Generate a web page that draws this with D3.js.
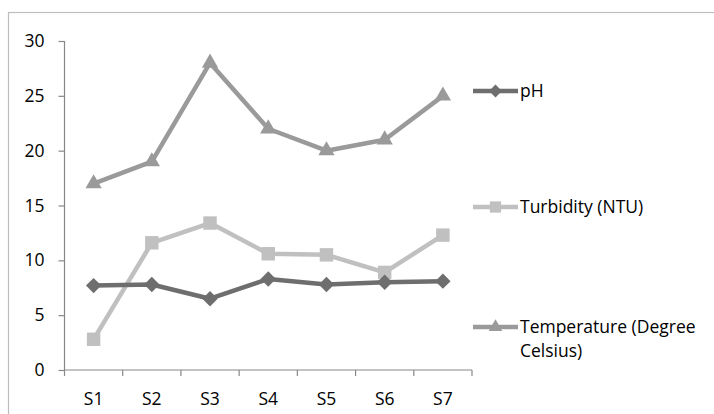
<!DOCTYPE html>
<html>
<head>
<meta charset="utf-8">
<script src="https://cdn.jsdelivr.net/npm/d3@7"></script>
<style>
  body { margin: 0; background: #fff; }
  svg text { font-family: "Open Sans", sans-serif; fill: #000; }
</style>
</head>
<body>
<div id="chart"></div>
<script>

// data
var sites = ["S1", "S2", "S3", "S4", "S5", "S6", "S7"];
var phValues = [7.7, 7.8, 6.5, 8.3, 7.8, 8.0, 8.1];
var turbidityValues = [2.8, 11.6, 13.4, 10.6, 10.5, 8.9, 12.3];
var temperatureValues = [17, 19, 28, 22, 20, 21, 25];
var yTicks = [0, 5, 10, 15, 20, 25, 30];

var series = [
    { name: ["pH"], values: phValues, color: "#6e6e6e", symbol: d3.symbolDiamond2, size: 150 },
    { name: ["Turbidity (NTU)"], values: turbidityValues, color: "#c0c0c0", symbol: d3.symbolSquare2, size: 230 },
    { name: ["Temperature (Degree", "Celsius)"], values: temperatureValues, color: "#9a9a9a", symbol: d3.symbolTriangle2, size: 190 }
];

var width = 714, height = 414;
var margin = { left: 64.5, top: 41, right: 242, bottom: 44 };
var fontSize = "17.5px";

var svg = d3.select("#chart")
    .append("svg")
    .attr("width", width)
    .attr("height", height);

// outer frame, runs off the right and bottom of the picture
svg.append("rect")
    .attr("x", 8.5)
    .attr("y", 12.5)
    .attr("width", width)
    .attr("height", height)
    .style("fill", "none")
    .style("stroke", "#bdbdbd")
    .style("stroke-width", 1.2);

var x = d3.scaleBand()
    .domain(sites)
    .range([margin.left, width - margin.right]);

var y = d3.scaleLinear()
    .domain([0, 30])
    .range([height - margin.bottom, margin.top]);

// y axis
var yAxis = svg.append("g")
    .attr("transform", "translate(" + margin.left + ",0)")
    .call(d3.axisLeft(y).tickValues(yTicks).tickSize(6).tickPadding(14));

// x axis, ticks at the band edges
var xAxis = svg.append("g")
    .attr("transform", "translate(0," + y(0) + ")")
    .call(d3.axisBottom(x).tickSize(0).tickPadding(23));

xAxis.selectAll(".edge")
    .data(sites.concat(["end"]))
    .enter()
    .append("line")
    .attr("class", "edge")
    .attr("x1", function(d, i){ return i < sites.length ? x(d) : x.range()[1]; })
    .attr("x2", function(d, i){ return i < sites.length ? x(d) : x.range()[1]; })
    .attr("y1", 0)
    .attr("y2", 6);

[yAxis, xAxis].forEach(function(g){
    g.selectAll("path, line").style("stroke", "#888").style("stroke-width", 1.2);
    g.selectAll("text").style("font-size", fontSize).style("font-family", "Open Sans, sans-serif");
});
yAxis.select(".domain").attr("d", "M0," + y(30) + "V" + y(0));
xAxis.select(".domain").attr("d", "M" + x.range()[0] + ",0H" + x.range()[1]);

var line = d3.line()
    .x(function(d, i){ return x(sites[i]) + x.bandwidth() / 2; })
    .y(function(d){ return y(d); });

// draw temperature first so pH sits on top, as in the original
var order = [2, 1, 0];
order.forEach(function(k){
    var s = series[k];
    var g = svg.append("g");

    g.append("path")
        .datum(s.values)
        .attr("d", line)
        .style("fill", "none")
        .style("stroke", s.color)
        .style("stroke-width", 4.5)
        .style("stroke-linejoin", "round");

    g.selectAll("path.marker")
        .data(s.values)
        .enter()
        .append("path")
        .attr("class", "marker")
        .attr("d", d3.symbol().type(s.symbol).size(s.size))
        .attr("transform", function(d, i){
            return "translate(" + (x(sites[i]) + x.bandwidth() / 2) + "," + y(d) + ")";
        })
        .style("fill", s.color);
});

// legend
var legendY = [91, 207, 327];
var legend = svg.append("g");

series.forEach(function(s, i){
    var g = legend.append("g")
        .attr("transform", "translate(473," + legendY[i] + ")");

    g.append("line")
        .attr("x1", 0)
        .attr("x2", 45)
        .style("stroke", s.color)
        .style("stroke-width", 4.5);

    g.append("path")
        .attr("d", d3.symbol().type(s.symbol).size(s.size * 0.7))
        .attr("transform", "translate(22.5,0)")
        .style("fill", s.color);

    g.selectAll("text")
        .data(s.name)
        .enter()
        .append("text")
        .attr("x", 47)
        .attr("y", function(d, j){ return j * 24; })
        .attr("dy", "0.35em")
        .style("font-size", fontSize)
        .text(function(d){ return d; });
});

</script>
</body>
</html>
